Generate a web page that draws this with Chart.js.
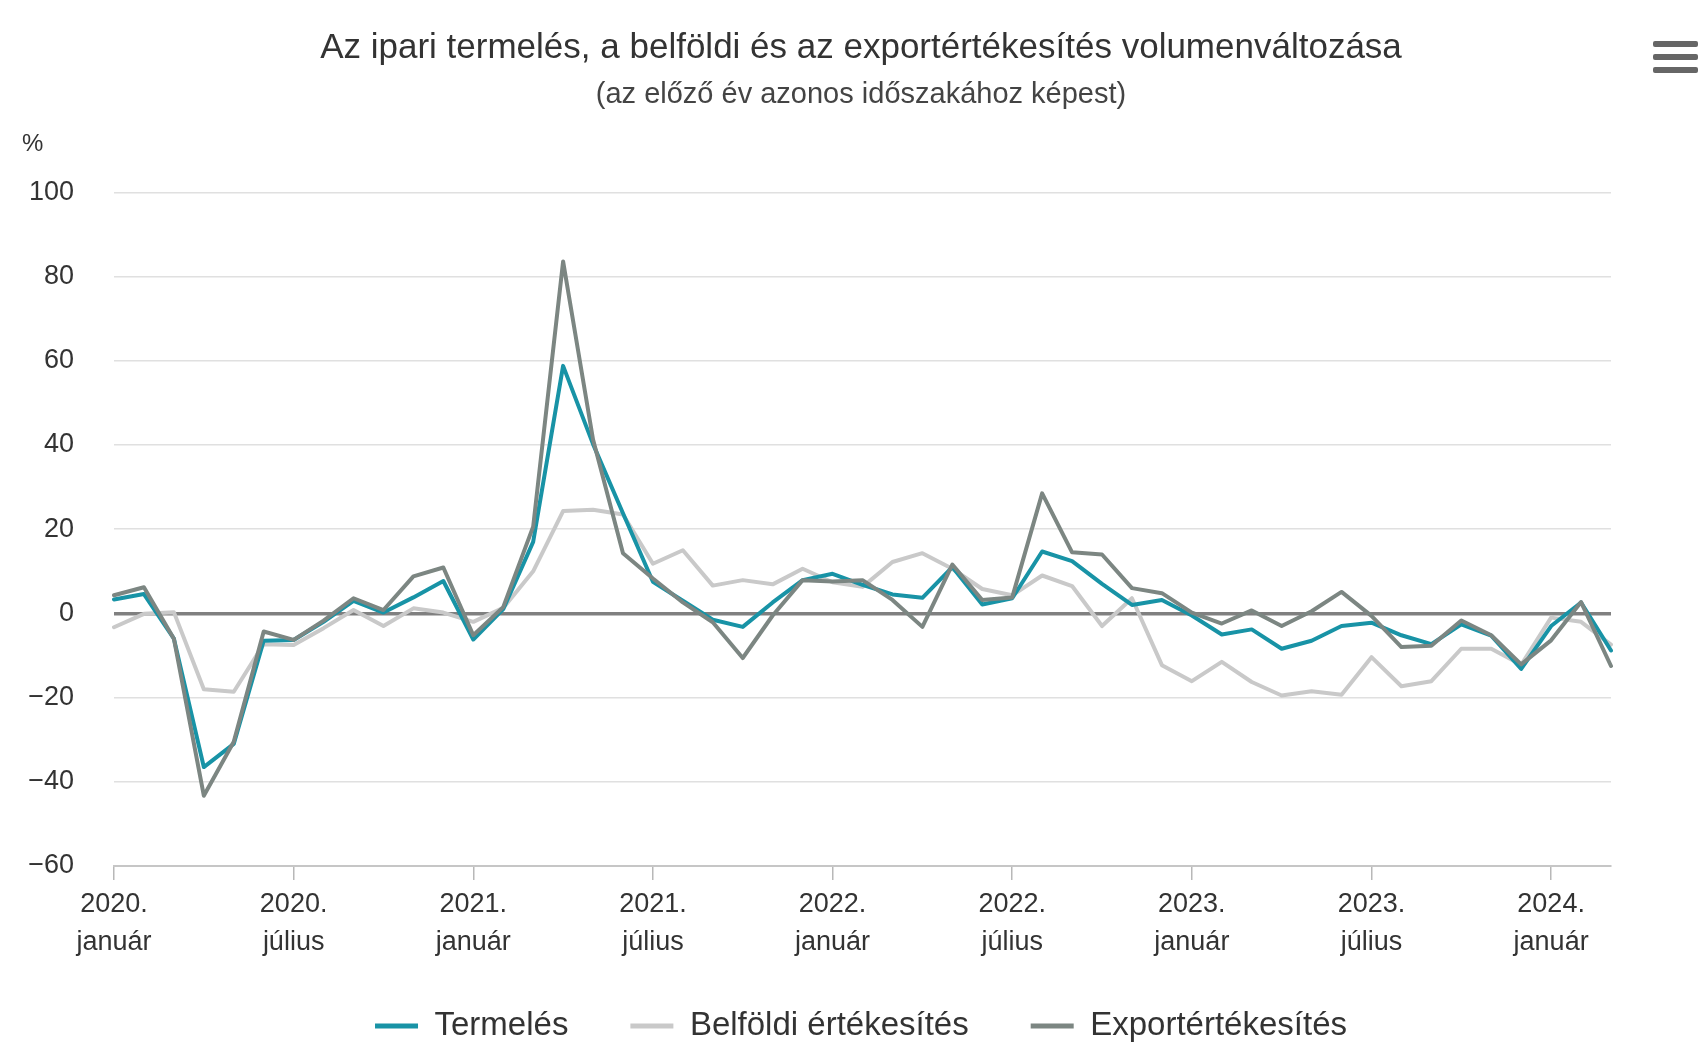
<!DOCTYPE html>
<html lang="hu">
<head>
<meta charset="utf-8">
<title>Ipari termelés</title>
<script src="https://cdn.jsdelivr.net/npm/chart.js@4.4.1/dist/chart.umd.min.js"></script>
<style>
  html, body { margin: 0; padding: 0; background: #ffffff; }
  #wrap { position: relative; width: 1699px; height: 1045px; }
  #pct { position: absolute; left: 22px; top: 129px; font: 24px "Liberation Sans", Arial, sans-serif; color: #333; }
  #menu { position: absolute; left: 1653px; top: 41px; width: 45px; }
  #menu div { height: 6px; background: #666; border-radius: 2px; margin-bottom: 7px; }
</style>
</head>
<body>
<div id="wrap">
  <canvas id="c"></canvas>
  <div id="pct">%</div>
  <div id="menu"><div></div><div></div><div></div></div>
</div>
<script>
const categories = [
  "2020. január","2020. február","2020. március","2020. április","2020. május","2020. június",
  "2020. július","2020. augusztus","2020. szeptember","2020. október","2020. november","2020. december",
  "2021. január","2021. február","2021. március","2021. április","2021. május","2021. június",
  "2021. július","2021. augusztus","2021. szeptember","2021. október","2021. november","2021. december",
  "2022. január","2022. február","2022. március","2022. április","2022. május","2022. június",
  "2022. július","2022. augusztus","2022. szeptember","2022. október","2022. november","2022. december",
  "2023. január","2023. február","2023. március","2023. április","2023. május","2023. június",
  "2023. július","2023. augusztus","2023. szeptember","2023. október","2023. november","2023. december",
  "2024. január","2024. február","2024. március"
];

const termeles = [
  3.3, 4.6, -6, -36.5, -31, -6.5, -6.3, -2, 3, 0.2, 3.8, 7.7,
  -6.2, 1, 17, 58.8, 40.2, 23.8, 7.5, 3, -1.5, -3.2, 2.6, 7.9,
  9.4, 6.8, 4.5, 3.7, 11, 2.1, 3.6, 14.7, 12.4, 7, 2, 3.2,
  -0.5, -5, -3.8, -8.4, -6.5, -3, -2.2, -5.2, -7.3, -2.6, -5.3, -13.2,
  -3, 2.6, -8.8
];

const belfoldi = [
  -3.3, -0.1, 0.3, -18, -18.6, -7.3, -7.5, -3.5, 0.8, -3, 1.2, 0.2,
  -2, 1.3, 10, 24.3, 24.6, 23.5, 11.8, 15, 6.6, 7.9, 6.9, 10.6,
  7.4, 6.3, 12.2, 14.3, 10.6, 5.8, 4.3, 9, 6.5, -3, 3.6, -12.3,
  -16.1, -11.5, -16.3, -19.5, -18.5, -19.3, -10.4, -17.3, -16.1, -8.4, -8.4, -12.2,
  -1, -2, -7.4
];

const export_ = [
  4.3, 6.2, -6, -43.3, -30.5, -4.3, -6.3, -1.7, 3.6, 0.8, 8.8, 10.9,
  -5.2, 1.5, 20.6, 83.6, 41.3, 14.3, 8.3, 2.6, -2.1, -10.6, -0.5, 7.9,
  7.6, 7.9, 3.2, -3.2, 11.6, 3.2, 3.8, 28.5, 14.5, 14, 6, 4.8,
  0.2, -2.4, 0.7, -3, 0.5, 5.1, -0.6, -8, -7.7, -1.7, -5.2, -12.1,
  -6.4, 2.7, -12.5
];

const seriesNames = ["Termelés", "Belföldi értékesítés", "Exportértékesítés"];
const yTicks = [-60, -40, -20, 0, 20, 40, 60, 80, 100];

const FONT = '"Liberation Sans", Arial, Helvetica, sans-serif';
const TEAL = '#1893a6', LIGHT = '#c9c9c9', DARK = '#7c8682';

// Legend box height so that it sits at the very bottom like the original
const legendFit = {
  id: 'legendFit',
  beforeLayout(chart) {
    const lg = chart.legend;
    if (lg && !lg._fitPatched) {
      const orig = lg.fit.bind(lg);
      lg.fit = function () { orig(); this.height = 97.5; };
      lg._fitPatched = true;
    }
  }
};

function ds(i, data, color, order) {
  return {
    label: seriesNames[i], data: data, order: order,
    borderColor: color, backgroundColor: color,
    pointBorderColor: color, pointBackgroundColor: color, pointBorderWidth: 5
  };
}

new Chart(document.getElementById('c'), {
  type: 'line',
  data: {
    labels: categories,
    datasets: [
      ds(0, termeles, TEAL, 1),
      ds(1, belfoldi, LIGHT, 2),
      ds(2, export_, DARK, 0)
    ]
  },
  plugins: [legendFit],
  options: {
    responsive: true,
    maintainAspectRatio: false,
    animation: false,
    devicePixelRatio: 1,
    elements: {
      line: { borderWidth: 4, tension: 0, borderJoinStyle: 'round', borderCapStyle: 'round' },
      point: { radius: 0, hoverRadius: 0 }
    },
    layout: { padding: { left: 23, right: 0, top: 0, bottom: 0 } },
    plugins: {
      tooltip: { enabled: false },
      title: {
        display: true,
        text: 'Az ipari termelés, a belföldi és az exportértékesítés volumenváltozása',
        color: '#333333',
        font: { family: FONT, size: 35, weight: 'normal' },
        padding: { top: 27, bottom: 8.6 }
      },
      subtitle: {
        display: true,
        text: '(az előző év azonos időszakához képest)',
        color: '#444444',
        font: { family: FONT, size: 29, weight: 'normal' },
        padding: { top: 0, bottom: 80 }
      },
      legend: {
        position: 'bottom',
        labels: {
          color: '#333333',
          font: { family: FONT, size: 33 },
          usePointStyle: true,
          pointStyle: 'line',
          pointStyleWidth: 43,
          boxHeight: 33,
          padding: 62,
          sort: (a, b) => a.datasetIndex - b.datasetIndex
        }
      }
    },
    scales: {
      x: {
        type: 'category',
        offset: false,
        afterFit: (axis) => {
          axis.height = 81.5;
          axis._computeLabelArea = function () { return undefined; };
        },
        border: { display: true, color: '#c6c6c6', width: 2 },
        grid: {
          drawOnChartArea: false,
          drawTicks: true,
          tickLength: 14,
          color: (ctx) => (ctx.index % 6 === 0 ? '#b8b8b8' : 'rgba(0,0,0,0)'),
          lineWidth: 1.5
        },
        ticks: {
          autoSkip: false,
          maxRotation: 0,
          minRotation: 0,
          color: '#333333',
          padding: 6,
          font: { family: FONT, size: 27, lineHeight: 1.4 },
          callback: function (value, index) {
            if (index % 6 !== 0) return '';
            const parts = categories[index].split(' ');
            return [parts[0], parts[1]];
          }
        }
      },
      y: {
        min: -60,
        max: 100,
        afterFit: (axis) => { axis.width = 91; },
        border: { display: false },
        afterBuildTicks: (axis) => { axis.ticks = yTicks.map(v => ({ value: v })); },
        grid: {
          drawTicks: false,
          color: (ctx) => (ctx.tick && ctx.tick.value === 0 ? '#808080' : '#e0e0e0'),
          lineWidth: (ctx) => (ctx.tick && ctx.tick.value === 0 ? 3.5 : 1.5)
        },
        ticks: {
          color: '#333333',
          padding: 40,
          font: { family: FONT, size: 27 },
          callback: (v) => (v < 0 ? '\u2212' + Math.abs(v) : String(v))
        }
      },
      yRightSpace: {
        type: 'linear',
        position: 'right',
        display: true,
        afterFit: (axis) => { axis.width = 88; },
        border: { display: false },
        grid: { display: false, drawOnChartArea: false },
        ticks: { display: false }
      }
    }
  }
});
</script>
</body>
</html>
